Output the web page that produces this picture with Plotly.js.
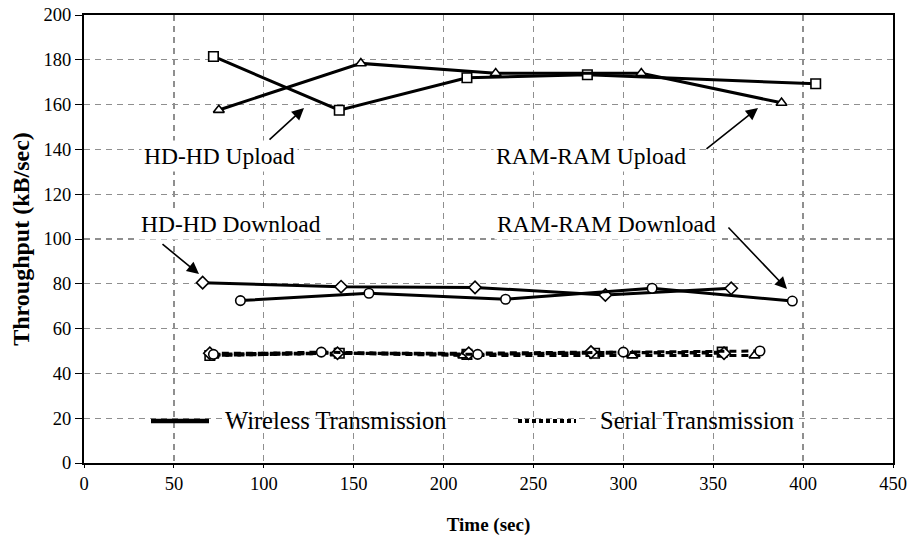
<!DOCTYPE html>
<html>
<head>
<meta charset="utf-8">
<script src="https://cdn.plot.ly/plotly-3.0.1.min.js"></script>
<style>html,body{margin:0;padding:0;background:#fff;}#chart{width:912px;height:540px;}</style>
</head>
<body>
<div id="chart"></div>
<script>
// Wireless transmission series
const hdUpX = [72, 142, 213, 280, 407];
const hdUpY = [181.5, 157.5, 172, 173.3, 169.3];
const ramUpX = [75, 154, 229, 310, 388];
const ramUpY = [157.6, 178.4, 174, 174, 160.8];
const hdDownX = [66, 143, 217.5, 290, 360];
const hdDownY = [80.5, 78.7, 78.4, 75, 78];
const ramDownX = [87, 158.5, 234.5, 316, 394];
const ramDownY = [72.5, 75.8, 73.1, 78, 72.3];
// Serial transmission series
const serHdUpX = [70, 142, 213, 284, 355];
const serHdUpY = [48, 49, 48.5, 49, 49.5];
const serRamUpX = [72, 140, 211, 305, 373];
const serRamUpY = [48, 49, 48, 48, 48];
const serHdDownX = [70, 141, 214, 282, 356];
const serHdDownY = [49, 49, 49, 49.5, 49];
const serRamDownX = [72, 132, 219, 300, 376];
const serRamDownY = [48.5, 49.5, 48.5, 49.5, 50];

const xTicks = [0, 50, 100, 150, 200, 250, 300, 350, 400, 450];
const yTicks = [0, 20, 40, 60, 80, 100, 120, 140, 160, 180, 200];

const FONT = 'Liberation Serif, Times New Roman, serif';
const L = 84, R = 893, T = 15, B = 463;
const px = v => (v - L) / (R - L);
const py = v => (B - v) / (B - T);

function wireless(x, y, sym) {
  return {x: x, y: y, type: 'scatter', mode: 'lines+markers', showlegend: false,
    line: {color: '#000', width: 3},
    marker: {symbol: sym, size: 9.5, color: '#fff', line: {color: '#000', width: 1.6}}};
}
function serial(x, y, sym) {
  return {x: x, y: y, type: 'scatter', mode: 'lines+markers', showlegend: false,
    line: {color: '#000', width: 3, dash: '7px,5px'},
    marker: {symbol: sym, size: 9.5, color: '#fff', line: {color: '#000', width: 1.6}}};
}

const data = [
  serial(serHdUpX, serHdUpY, 'square'),
  serial(serRamUpX, serRamUpY, 'triangle-up'),
  serial(serHdDownX, serHdDownY, 'diamond'),
  serial(serRamDownX, serRamDownY, 'circle'),
  wireless(hdUpX, hdUpY, 'square'),
  wireless(ramUpX, ramUpY, 'triangle-up'),
  wireless(hdDownX, hdDownY, 'diamond'),
  wireless(ramDownX, ramDownY, 'circle')
];

function label(text, cx, cy) {
  return {xref: 'paper', yref: 'paper', x: px(cx), y: py(cy), text: text, showarrow: false,
    xanchor: 'center', yanchor: 'middle', bgcolor: '#fff', borderpad: 2,
    font: {family: FONT, size: 23.5, color: '#000'}};
}
function arrow(tx, ty, sx, sy) {
  return {xref: 'paper', yref: 'paper', x: px(tx), y: py(ty), ax: sx - tx, ay: sy - ty,
    text: '', showarrow: true, arrowhead: 2, arrowsize: 1.5, arrowwidth: 1.6,
    arrowcolor: '#000', standoff: 0, startstandoff: 0};
}

const annotations = [
  label('HD-HD Upload', 219, 156),
  label('RAM-RAM Upload', 591, 156),
  label('HD-HD Download', 231, 224),
  label('RAM-RAM Download', 606, 224),
  arrow(304, 108, 268, 141),
  arrow(758, 108, 705, 150),
  arrow(199, 274, 161, 243),
  arrow(787, 289, 727, 226),
  {xref: 'paper', yref: 'paper', x: px(223), y: py(420), text: 'Wireless Transmission', showarrow: false,
    xanchor: 'left', yanchor: 'middle', font: {family: FONT, size: 24.5, color: '#000'}},
  {xref: 'paper', yref: 'paper', x: px(598), y: py(420), text: 'Serial Transmission', showarrow: false,
    xanchor: 'left', yanchor: 'middle', font: {family: FONT, size: 24.5, color: '#000'}}
];

const shapes = [
  {type: 'rect', layer: 'between', xref: 'paper', yref: 'paper', x0: px(140), x1: px(458), y0: py(436), y1: py(404),
    fillcolor: '#fff', line: {width: 0}},
  {type: 'rect', layer: 'between', xref: 'paper', yref: 'paper', x0: px(508), x1: px(806), y0: py(436), y1: py(404),
    fillcolor: '#fff', line: {width: 0}},
  {type: 'line', layer: 'above', xref: 'paper', yref: 'paper', x0: px(151), x1: px(209), y0: py(421), y1: py(421),
    line: {color: '#000', width: 4.5}},
  {type: 'line', layer: 'above', xref: 'paper', yref: 'paper', x0: px(518), x1: px(576), y0: py(421), y1: py(421),
    line: {color: '#000', width: 4, dash: '4px,3px'}}
];

const layout = {
  width: 912, height: 540,
  margin: {l: L, r: 912 - R, t: T, b: 540 - B},
  paper_bgcolor: '#fff', plot_bgcolor: '#fff',
  showlegend: false,
  font: {family: FONT, color: '#000'},
  xaxis: {
    range: [0, 450], tickvals: xTicks, ticktext: xTicks.map(String),
    showline: true, mirror: true, linecolor: '#000', linewidth: 2,
    ticks: 'outside', ticklen: 3, tickcolor: '#000', tickwidth: 1,
    showgrid: true, gridcolor: '#8f8f8f', gridwidth: 1.3, griddash: '6px,5px',
    zeroline: false, tickfont: {family: FONT, size: 18.5, color: '#000'},
    title: {text: '<b>Time (sec)</b>', font: {family: FONT, size: 19, color: '#000'}, standoff: 24}
  },
  yaxis: {
    range: [0, 200], tickvals: yTicks, ticktext: yTicks.map(String),
    showline: true, mirror: true, linecolor: '#000', linewidth: 2,
    ticks: 'outside', ticklen: 7, tickcolor: '#000', tickwidth: 1,
    showgrid: true, gridcolor: '#8f8f8f', gridwidth: 1.3, griddash: '6px,5px',
    zeroline: false, tickfont: {family: FONT, size: 18.5, color: '#000'},
    title: {text: '<b>Throughput (kB/sec)</b>', font: {family: FONT, size: 24, color: '#000'}, standoff: 7}
  },
  annotations: annotations,
  shapes: shapes
};

Plotly.newPlot('chart', data, layout, {staticPlot: true, displayModeBar: false});
</script>
</body>
</html>
